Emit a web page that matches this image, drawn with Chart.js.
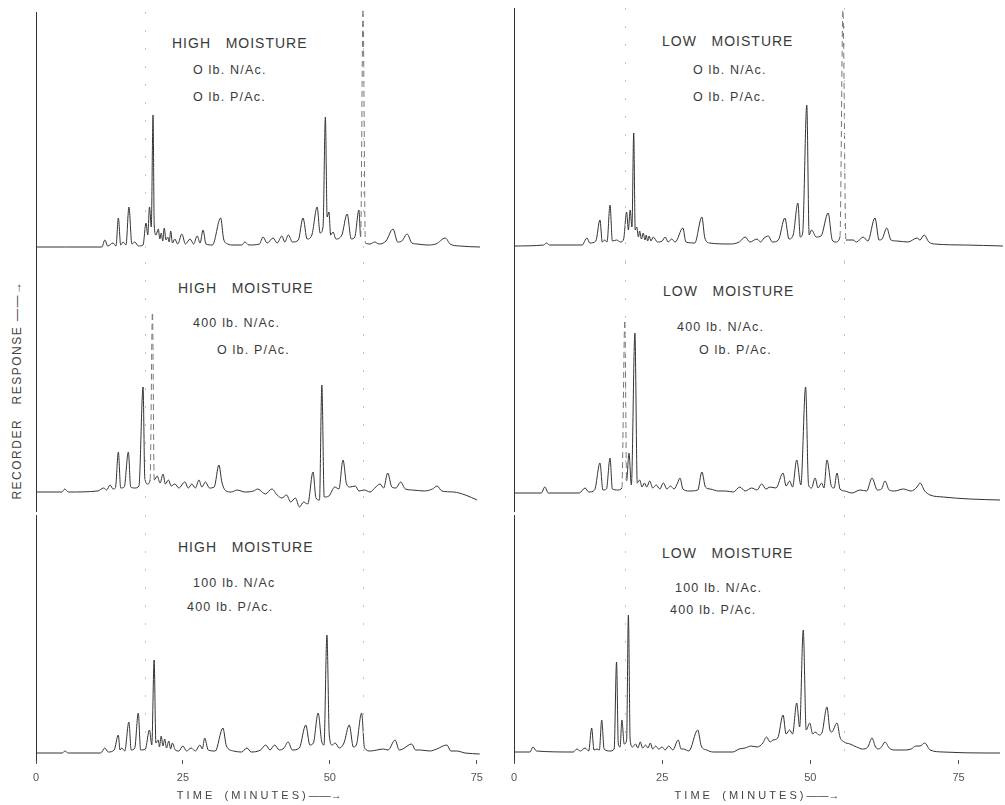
<!DOCTYPE html>
<html>
<head>
<meta charset="utf-8">
<script src="https://cdn.jsdelivr.net/npm/chart.js@4.4.0/dist/chart.umd.min.js"></script>
<style>
  body { margin: 0; background: #fff; width: 1005px; height: 805px; position: relative; overflow: hidden;
         font-family: "Liberation Sans", Arial, sans-serif; color: #3a3a3a; }
  canvas { position: absolute; }
  .lbl { position: absolute; white-space: pre; line-height: 1; transform: translateY(-50%); }
  .head { font-size: 14px; letter-spacing: 1px; }
  .sub { font-size: 12.5px; letter-spacing: 1.2px; }
  .ytitle { position: absolute; left: 17px; top: 390px; transform: translate(-50%, -50%) rotate(-90deg);
            font-size: 12px; letter-spacing: 1.5px; white-space: pre; color: #444; }
</style>
</head>
<body>
<div class="ytitle">RECORDER   RESPONSE ——→</div>

<div class="lbl head" style="left:172px;top:43px">HIGH   MOISTURE</div>
<div class="lbl sub" style="left:193px;top:70px">O lb. N/Ac.</div>
<div class="lbl sub" style="left:193px;top:97px">O lb. P/Ac.</div>

<div class="lbl head" style="left:662px;top:41px">LOW   MOISTURE</div>
<div class="lbl sub" style="left:693px;top:70px">O lb. N/Ac.</div>
<div class="lbl sub" style="left:693px;top:97px">O lb. P/Ac.</div>

<div class="lbl head" style="left:178px;top:288px">HIGH   MOISTURE</div>
<div class="lbl sub" style="left:193px;top:323px">400 lb. N/Ac.</div>
<div class="lbl sub" style="left:217px;top:350px">O lb. P/Ac.</div>

<div class="lbl head" style="left:663px;top:291px">LOW   MOISTURE</div>
<div class="lbl sub" style="left:677px;top:327px">400 lb. N/Ac.</div>
<div class="lbl sub" style="left:699px;top:350px">O lb. P/Ac.</div>

<div class="lbl head" style="left:178px;top:547px">HIGH   MOISTURE</div>
<div class="lbl sub" style="left:193px;top:583px">100 lb. N/Ac</div>
<div class="lbl sub" style="left:187px;top:607px">400 lb. P/Ac.</div>

<div class="lbl head" style="left:662px;top:553px">LOW   MOISTURE</div>
<div class="lbl sub" style="left:675px;top:588px">100 lb. N/Ac.</div>
<div class="lbl sub" style="left:670px;top:610px">400 lb. P/Ac.</div>

<script>
// [thời gian (phút), độ cao so với đường nền]
const highN0P0 = [[0,0],[5,0],[11.2,0],[11.7,7],[12.2,1],[13.1,4],[13.6,1],[14.0,29],[14.4,2],[14.8,5],[15.3,2],[15.8,40],[16.3,3],[16.8,5],[17.4,1],[18.2,2],[18.7,24],[19.0,12],[19.3,40],[19.6,20],[19.9,132],[20.1,22],[20.4,12],[20.8,18],[21.05,8],[21.3,14],[21.55,6],[21.8,19],[22.1,7],[22.4,10],[22.65,5],[22.9,16],[23.2,4],[23.6,8],[24.1,3],[24.8,13],[25.4,3],[26.2,8],[26.8,3],[27.4,11],[27.9,4],[28.4,17],[28.9,3],[30.0,2],[31.4,29],[31.9,8],[32.6,3],[33.5,2],[35.0,2],[35.5,5],[36.2,2],[38.0,3],[38.6,10],[39.3,4],[40.3,9],[41.0,4],[41.8,11],[42.3,5],[42.9,12],[43.6,5],[44.6,7],[45.4,29],[46.1,8],[46.9,12],[47.8,40],[48.3,14],[48.8,20],[49.2,130],[49.5,30],[49.8,35],[50.1,12],[50.5,15],[51.0,8],[52.0,12],[52.9,33],[53.6,8],[54.2,10],[54.9,37],[55.2,10],[55.6,238],[56.0,4],[56.8,3],[57.6,5],[58.3,3],[59.5,6],[60.7,18],[61.5,5],[62.2,6],[63.1,13],[63.9,4],[64.8,3],[66.5,2],[68.0,3],[69.6,9],[70.4,3],[72,1],[75.5,0]];

const lowN0P0 = [[0,-1],[5,0],[5.5,2],[6,0],[11.5,0],[12.3,7],[12.8,2],[13.8,4],[14.5,25],[14.9,3],[15.3,5],[15.7,3],[16.2,40],[16.6,4],[17.3,5],[18.0,3],[18.5,6],[19.0,33],[19.3,15],[19.6,35],[19.9,18],[20.2,112],[20.45,15],[20.7,18],[21.0,8],[21.2,14],[21.5,6],[21.8,12],[22.1,5],[22.3,10],[22.55,4],[22.8,9],[23.1,4],[23.5,8],[24.2,3],[25.0,4],[25.5,8],[26.0,3],[26.6,6],[27.2,3],[28.5,17],[29.0,3],[30.5,2],[31.7,28],[32.2,7],[33.0,2],[36.5,1],[38.0,3],[39.0,8],[39.8,3],[41.0,6],[41.6,3],[42.2,7],[42.9,9],[43.6,3],[44.6,5],[45.7,27],[46.4,6],[47.1,10],[47.9,42],[48.3,8],[48.7,12],[49.4,140],[49.8,10],[50.2,15],[51.0,8],[51.8,9],[53.0,32],[53.7,5],[54.3,3],[55.0,8],[55.5,235],[56.0,5],[57.2,5],[57.8,3],[58.9,8],[59.7,4],[60.9,27],[61.6,5],[62.1,6],[62.9,17],[63.6,5],[64.6,4],[66.5,3],[68.0,7],[68.5,5],[69.2,10],[70.0,3],[71.0,1],[76,0],[82.5,-1]];

const highN400P0 = [[0,0],[4.4,0],[4.9,3],[5.5,0],[10.5,1],[11.5,4],[12.0,2],[12.6,7],[13.1,3],[13.5,4],[14.0,40],[14.4,4],[15.0,5],[15.7,40],[16.1,5],[16.8,4],[17.5,6],[18.2,105],[18.5,14],[19.0,8],[19.4,12],[19.8,180],[20.1,12],[20.6,16],[21.1,9],[21.6,18],[22.0,8],[22.5,12],[23.0,6],[23.6,8],[24.3,4],[25.3,10],[25.9,4],[26.5,8],[27.1,4],[27.7,12],[28.2,5],[28.8,10],[29.5,4],[30.3,5],[31.1,27],[31.6,10],[32.3,1],[33.2,0],[34.2,2],[35.5,0],[37.0,1],[37.7,3],[39.0,-2],[40.1,3],[41.0,-3],[41.8,-6],[42.6,-3],[43.3,-10],[44.1,-6],[44.8,-15],[45.5,-10],[46.2,-12],[47.1,20],[47.6,-6],[48.2,-8],[48.6,107],[49.0,-5],[49.8,-4],[50.8,5],[51.5,3],[52.2,32],[52.8,8],[53.4,5],[54.3,6],[54.9,1],[55.8,2],[56.8,0],[57.6,4],[58.5,8],[59.1,4],[59.8,19],[60.5,5],[61.2,4],[62.0,10],[62.8,3],[64.0,2],[66.0,1],[67.4,3],[68.2,6],[69.0,1],[71.0,0],[73.0,-3],[75.0,-8]];

const lowN400P0 = [[0,0],[4.6,0],[5.2,6],[5.8,0],[11.0,0],[12.0,5],[12.6,1],[13.6,3],[14.5,30],[15.0,3],[15.6,4],[16.2,35],[16.6,4],[17.5,3],[18.2,5],[18.7,173],[19.0,12],[19.4,40],[19.8,8],[20.4,160],[20.8,10],[21.2,13],[21.6,6],[22.0,10],[22.4,6],[22.9,12],[23.4,5],[24.0,8],[24.6,4],[25.2,10],[25.8,4],[26.4,7],[27.0,4],[27.6,10],[28.0,15],[28.5,4],[29.5,2],[31.0,3],[31.7,21],[32.3,6],[33.1,4],[34.5,2],[35.7,2],[37.0,1],[38.1,6],[39.0,2],[40.1,5],[41.0,3],[41.8,9],[42.5,4],[43.2,6],[44.2,5],[45.4,20],[45.9,7],[46.5,12],[47.0,6],[47.7,33],[48.4,8],[49.2,106],[49.7,8],[50.2,5],[50.8,15],[51.3,5],[51.9,10],[52.3,5],[52.8,33],[53.6,6],[54.0,5],[54.5,20],[55.0,4],[55.8,2],[57.0,0],[58.4,3],[59.5,2],[60.4,15],[61.3,3],[62.0,4],[62.6,12],[63.3,3],[64.2,2],[65.7,4],[67.0,2],[68.0,6],[68.5,10],[69.3,2],[70.2,-2],[72.4,-4],[76.9,-6],[82.0,-7]];

const highN100P400 = [[0,0],[4.5,0],[4.9,2],[5.5,0],[11.0,0],[11.7,5],[12.3,1],[13.3,3],[14.0,18],[14.3,3],[14.6,5],[15.1,2],[15.8,31],[16.2,3],[16.8,5],[17.4,40],[17.8,3],[18.6,4],[19.3,23],[19.7,8],[20.1,93],[20.4,10],[20.8,13],[21.0,6],[21.3,17],[21.6,7],[21.9,14],[22.2,5],[22.6,12],[22.9,4],[23.2,10],[23.7,3],[24.3,2],[25.0,7],[25.6,2],[26.4,5],[27.1,2],[27.9,8],[28.3,4],[28.7,15],[29.3,3],[30.5,2],[31.8,25],[32.4,7],[33.6,2],[35.0,1],[35.9,5],[36.6,1],[38.2,3],[39.1,8],[39.8,3],[40.6,8],[41.4,3],[42.2,5],[42.9,11],[43.6,3],[44.8,5],[45.9,28],[46.6,8],[47.2,10],[48.0,40],[48.6,12],[49.0,8],[49.5,118],[49.9,18],[50.4,8],[50.9,10],[51.6,5],[52.4,10],[53.3,28],[54.0,6],[54.5,8],[55.4,40],[55.9,5],[56.9,2],[58.0,3],[59.1,4],[59.9,3],[61.1,13],[61.8,3],[62.4,4],[63.9,9],[64.6,3],[65.4,3],[67.0,2],[68.2,4],[69.9,8],[70.6,2],[71.6,2],[73.0,0],[75.5,-1]];

const lowN100P400 = [[0,0],[2.7,0],[3.2,5],[3.8,1],[10.0,0],[10.6,3],[11.2,1],[12.0,4],[12.6,1],[13.1,24],[13.5,2],[14.0,3],[14.4,2],[14.8,32],[15.2,3],[16.2,1],[16.9,3],[17.3,90],[17.6,8],[17.9,5],[18.2,32],[18.6,8],[19.0,12],[19.3,137],[19.6,12],[20.0,5],[20.5,8],[20.9,4],[21.3,10],[21.7,4],[22.2,7],[22.6,4],[23.0,9],[23.4,3],[23.9,6],[24.4,3],[25.0,5],[25.5,2],[26.1,6],[26.8,2],[27.7,12],[28.2,3],[28.6,3],[29.5,1],[31.0,22],[31.6,6],[32.5,2],[33.6,0],[36.9,0],[38.0,3],[39.0,4],[40.0,6],[41.0,5],[42.0,9],[42.6,15],[43.2,10],[43.7,12],[44.5,14],[45.4,37],[45.9,18],[46.5,22],[47.0,18],[47.7,49],[48.2,25],[48.8,122],[49.3,22],[49.9,29],[50.4,18],[50.8,20],[51.5,17],[52.0,20],[52.8,45],[53.3,22],[53.6,20],[54.5,29],[55.0,15],[55.7,10],[56.7,8],[57.8,5],[58.8,3],[59.7,5],[60.4,14],[61.0,5],[61.5,3],[62.0,5],[62.6,10],[63.3,4],[64.2,2],[65.6,2],[67.0,3],[67.8,6],[68.5,6],[69.3,9],[70.2,2],[72.4,0],[79.8,-1],[82.0,-1]];

// vạch thời gian trên trục và vạch mốc mờ
const timeTicks = [0, 25, 50, 75];
const markersLeft = [18.5, 55.6];
const markersRight = [18.7, 55.6];

// Plugin vẽ vạch mốc mờ
const markerPlugin = {
  id: 'markers',
  afterDatasetsDraw(chart, args, opts) {
    const ctx = chart.ctx, a = chart.chartArea, x = chart.scales.x;
    ctx.save();
    ctx.strokeStyle = '#c4c4c4';
    ctx.lineWidth = 1;
    ctx.setLineDash([2, 16]);
    (opts.times || []).forEach(function (t) {
      const px = Math.round(x.getPixelForValue(t)) + 0.5;
      ctx.beginPath();
      ctx.moveTo(px, a.top);
      ctx.lineTo(px, a.bottom);
      ctx.stroke();
    });
    ctx.restore();
  }
};

// pic quá cao vẽ nét đứt, nhạt như bản in
function tallSeg(ctx) {
  return Math.max(ctx.p0.parsed.y, ctx.p1.parsed.y) > 165;
}

const panels = [
  { pts: highN0P0,     left: 0,   top: 0,   w: 490, h: 262, pad: {left: 36, right: 7, top: 12, bottom: 0}, xMax: 76, yMin: -15, yMax: 235, axis: false, markers: markersLeft },
  { pts: lowN0P0,      left: 500, top: 0,   w: 505, h: 262, pad: {left: 14, right: 5, top: 8,  bottom: 0}, xMax: 82, yMin: -17, yMax: 237, axis: false, markers: markersRight },
  { pts: highN400P0,   left: 0,   top: 262, w: 490, h: 250, pad: {left: 36, right: 7, top: 0,  bottom: 0}, xMax: 76, yMin: -20, yMax: 230, axis: false, markers: markersLeft },
  { pts: lowN400P0,    left: 500, top: 262, w: 505, h: 250, pad: {left: 14, right: 5, top: 0,  bottom: 0}, xMax: 82, yMin: -19, yMax: 231, axis: false, markers: markersRight },
  { pts: highN100P400, left: 0,   top: 512, w: 490, h: 293, pad: {left: 36, right: 7, top: 3,  bottom: 0}, xMax: 76, yMin: -7,  yMax: 238, axis: true,  markers: markersLeft },
  { pts: lowN100P400,  left: 500, top: 512, w: 505, h: 293, pad: {left: 14, right: 5, top: 3,  bottom: 0}, xMax: 82, yMin: -8,  yMax: 237, axis: true,  markers: markersRight }
];

panels.forEach(function (p) {
  const cv = document.createElement('canvas');
  cv.width = p.w;
  cv.height = p.h;
  cv.style.left = p.left + 'px';
  cv.style.top = p.top + 'px';
  document.body.appendChild(cv);

  const xScale = {
    type: 'linear',
    min: 0,
    max: p.xMax,
    display: p.axis
  };
  if (p.axis) {
    Object.assign(xScale, {
      afterFit: function (s) { s.height = 45; },
      afterBuildTicks: function (s) { s.ticks = timeTicks.map(v => ({ value: v })); },
      ticks: { color: '#555', font: { size: 11, family: 'Liberation Sans' }, padding: 7, maxRotation: 0, autoSkip: false },
      grid: { display: true, drawOnChartArea: false, drawTicks: true, tickLength: 4, color: '#555' },
      border: { display: false },
      title: { display: true, text: 'T I M E    ( M I N U T E S ) ——→', color: '#444',
               font: { size: 11, family: 'Liberation Sans' }, padding: { top: 0, bottom: 2 } }
    });
  }

  new Chart(cv.getContext('2d'), {
    type: 'line',
    data: {
      datasets: [{
        data: p.pts.map(d => ({ x: d[0], y: d[1] })),
        borderColor: '#333',
        borderWidth: 1,
        pointRadius: 0,
        cubicInterpolationMode: 'monotone',
        clip: false,
        segment: {
          borderDash: ctx => tallSeg(ctx) ? [6, 4] : undefined,
          borderColor: ctx => tallSeg(ctx) ? '#777' : undefined
        }
      }]
    },
    options: {
      responsive: false,
      animation: false,
      devicePixelRatio: 1,
      layout: { padding: p.pad },
      plugins: {
        legend: { display: false },
        tooltip: { enabled: false },
        markers: { times: p.markers }
      },
      scales: {
        x: xScale,
        y: {
          min: p.yMin,
          max: p.yMax,
          ticks: { display: false },
          grid: { display: false, drawTicks: false },
          border: { display: true, color: '#333', width: 1 },
          afterFit: function (s) { s.width = 0; }
        }
      }
    },
    plugins: [markerPlugin]
  });
});
</script>
</body>
</html>
